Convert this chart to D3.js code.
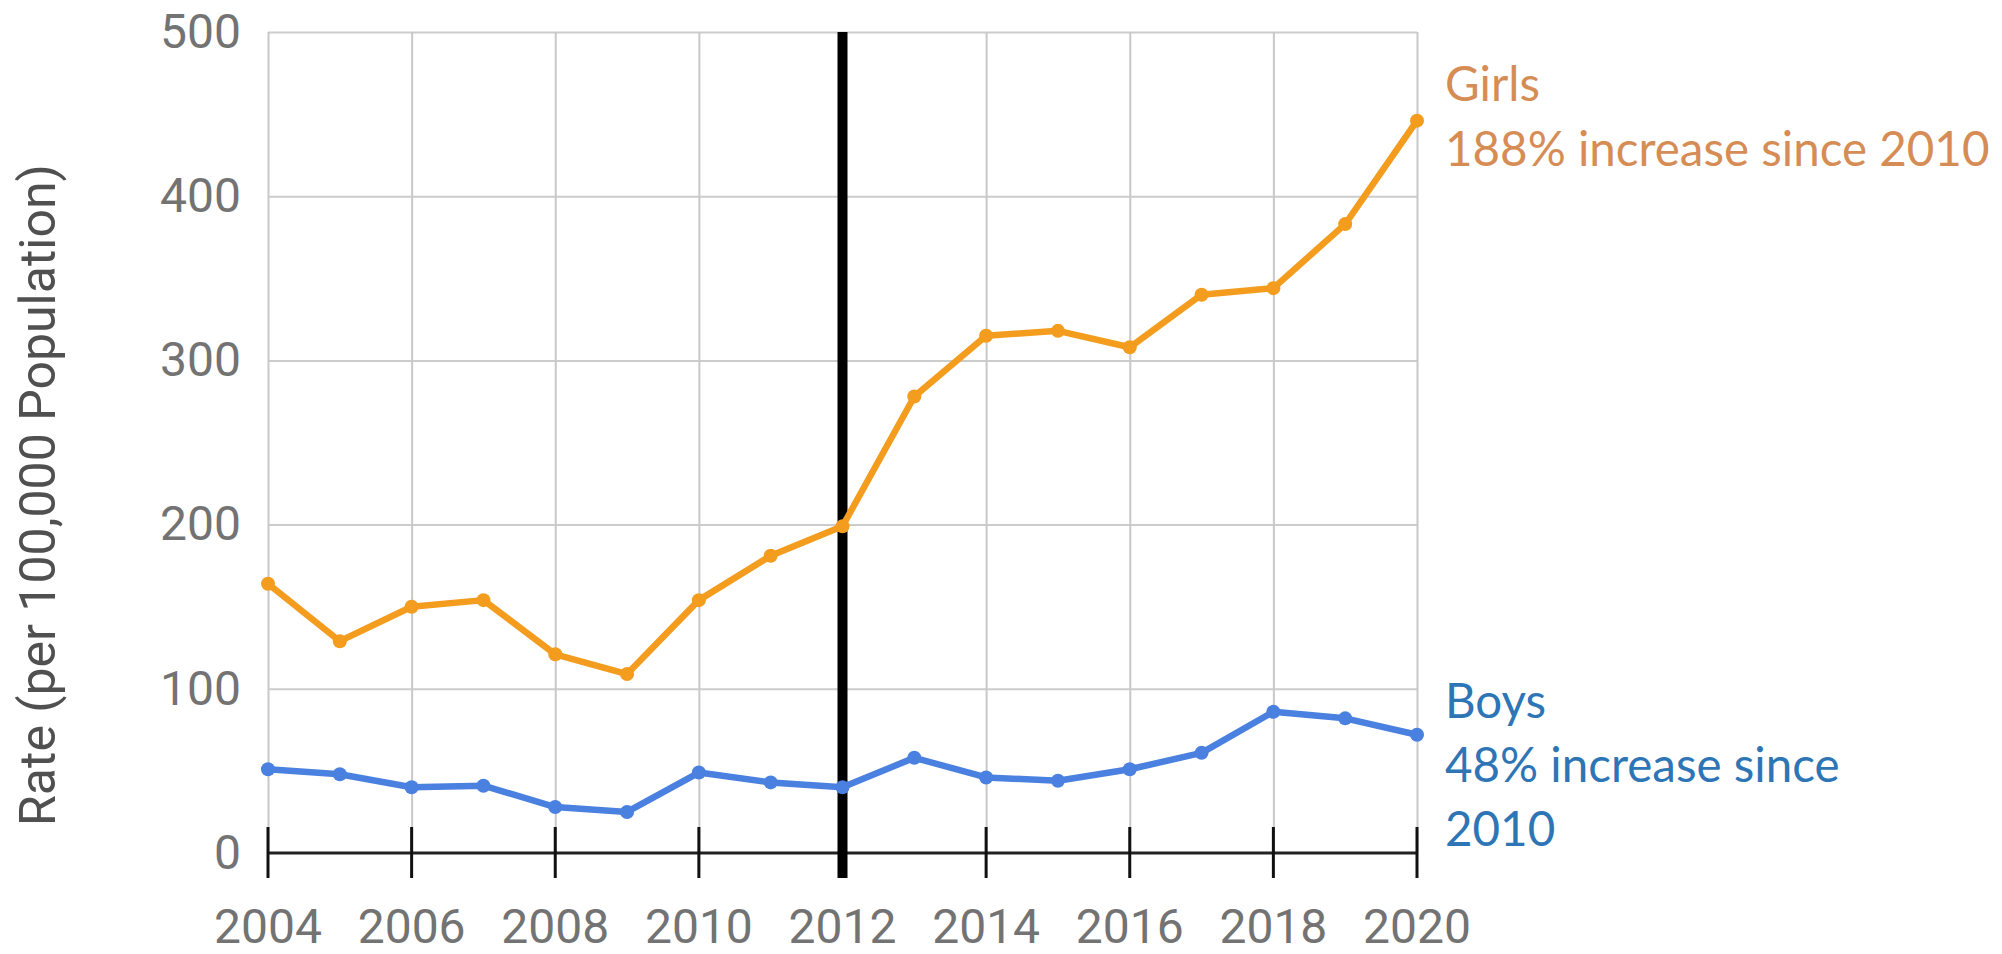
<!DOCTYPE html>
<html>
<head>
<meta charset="utf-8">
<script src="https://cdn.jsdelivr.net/npm/d3@7"></script>
<style>
  html, body { margin: 0; padding: 0; background: #fff; }
  svg { display: block; }
</style>
</head>
<body>
<div class="svg-class"></div>
<script>
// chart data
var years = [2004, 2005, 2006, 2007, 2008, 2009, 2010, 2011, 2012, 2013, 2014, 2015, 2016, 2017, 2018, 2019, 2020];
var girls = [164, 129, 150, 154, 121, 109, 154, 181, 199, 278, 315, 318, 308, 340, 344, 383, 446];
var boys = [51, 48, 40, 41, 28, 25, 49, 43, 40, 58, 46, 44, 51, 61, 86, 82, 72];
var yTicks = [0, 100, 200, 300, 400, 500];
var xTicks = [2004, 2006, 2008, 2010, 2012, 2014, 2016, 2018, 2020];
var markerYear = 2012;
var girlsLabel = ["Girls", "188% increase since 2010"];
var boysLabel = ["Boys", "48% increase since", "2010"];

var width = 2002,
    height = 954;
var margin = { top: 32, right: 585, bottom: 101, left: 268 };

var svg = d3.select(".svg-class")
    .append("svg")
    .attr("width", width)
    .attr("height", height);

var x = d3.scaleLinear()
    .domain([2004, 2020])
    .range([margin.left, width - margin.right]);

var y = d3.scaleLinear()
    .domain([0, 500])
    .range([height - margin.bottom, margin.top]);

var tickFont = "Roboto, sans-serif";

// horizontal grid
svg.append("g")
    .attr("class", "grid")
    .attr("transform", "translate(" + margin.left + ",0)")
    .call(d3.axisLeft(y)
        .tickValues(yTicks.slice(1))
        .tickSize(-(x.range()[1] - x.range()[0]))
        .tickFormat(""))
    .call(g => g.select(".domain").remove())
    .selectAll("line")
    .attr("stroke", "#cccccc")
    .attr("stroke-width", 2);

// vertical grid
svg.append("g")
    .attr("class", "grid")
    .attr("transform", "translate(0," + margin.top + ")")
    .call(d3.axisBottom(x)
        .tickValues(xTicks)
        .tickSize(y(0) - margin.top)
        .tickFormat(""))
    .call(g => g.select(".domain").remove())
    .selectAll("line")
    .attr("stroke", "#c8c8c8")
    .attr("stroke-width", 2);

// y tick labels
svg.append("g")
    .attr("transform", "translate(" + margin.left + ",0)")
    .call(d3.axisLeft(y).tickValues(yTicks).tickSize(0).tickPadding(27))
    .call(g => g.select(".domain").remove())
    .selectAll("text")
    .attr("fill", "#737373")
    .style("font-family", tickFont)
    .style("font-size", "48px");

// x axis: black baseline with ticks crossing it
var xAxis = svg.append("g")
    .attr("transform", "translate(0," + y(0) + ")");

xAxis.append("line")
    .attr("x1", x.range()[0])
    .attr("x2", x.range()[1])
    .attr("stroke", "#222")
    .attr("stroke-width", 3);

xAxis.selectAll(".xtick")
    .data(xTicks)
    .enter()
    .append("line")
    .attr("x1", d => x(d))
    .attr("x2", d => x(d))
    .attr("y1", -26)
    .attr("y2", 25)
    .attr("stroke", "#111")
    .attr("stroke-width", 3);

xAxis.selectAll(".xlabel")
    .data(xTicks)
    .enter()
    .append("text")
    .attr("x", d => x(d))
    .attr("y", 90)
    .attr("text-anchor", "middle")
    .attr("fill", "#737373")
    .style("font-family", tickFont)
    .style("font-size", "48px")
    .text(d => d);

// y axis title
svg.append("text")
    .attr("transform", "translate(55,495) rotate(-90)")
    .attr("text-anchor", "middle")
    .attr("fill", "#505050")
    .style("font-family", tickFont)
    .style("font-size", "50px")
    .text("Rate (per 100,000 Population)");

// vertical marker at 2012
svg.append("line")
    .attr("x1", x(markerYear))
    .attr("x2", x(markerYear))
    .attr("y1", y(500))
    .attr("y2", y(0) + 25)
    .attr("stroke", "#000")
    .attr("stroke-width", 10);

// series
var series = [
    { values: girls, color: "#f39c1e" },
    { values: boys, color: "#4a80e0" }
];

var line = d3.line()
    .x((d, i) => x(years[i]))
    .y(d => y(d));

series.forEach(function (s) {
    svg.append("path")
        .datum(s.values)
        .attr("fill", "none")
        .attr("stroke", s.color)
        .attr("stroke-width", 6.5)
        .attr("stroke-linejoin", "round")
        .attr("d", line);

    svg.selectAll(null)
        .data(s.values)
        .enter()
        .append("circle")
        .attr("cx", (d, i) => x(years[i]))
        .attr("cy", d => y(d))
        .attr("r", 7)
        .attr("fill", s.color);
});

// right side labels
var labelFont = "Lato, 'Open Sans', sans-serif";

svg.append("text")
    .attr("x", 1445)
    .attr("fill", "#d68d55")
    .style("font-family", labelFont)
    .style("font-size", "47.5px")
    .selectAll("tspan")
    .data(girlsLabel)
    .enter()
    .append("tspan")
    .attr("x", 1445)
    .attr("y", (d, i) => 101 + i * 65)
    .text(d => d);

svg.append("text")
    .attr("x", 1445)
    .attr("fill", "#2e75b6")
    .style("font-family", labelFont)
    .style("font-size", "47.5px")
    .selectAll("tspan")
    .data(boysLabel)
    .enter()
    .append("tspan")
    .attr("x", 1445)
    .attr("y", (d, i) => 718 + i * 64)
    .text(d => d);
</script>
</body>
</html>
